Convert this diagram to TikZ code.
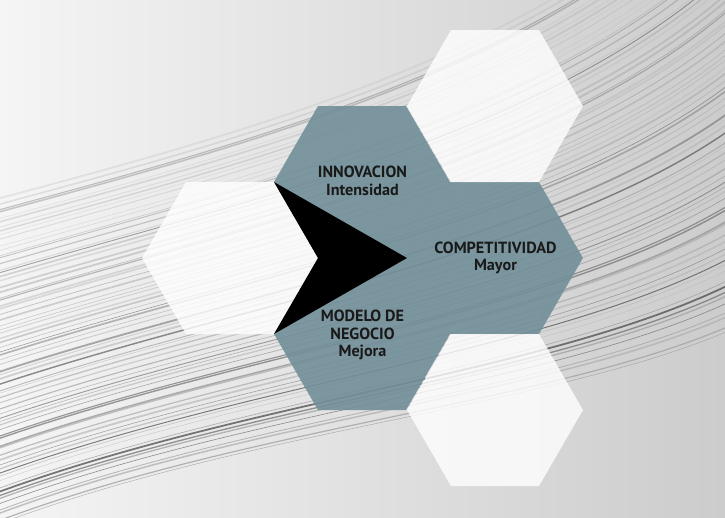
\documentclass[tikz,border=0pt]{standalone}
\usepackage{fontspec}
\setsansfont{PT Sans}
\definecolor{azulgris}{RGB}{114,143,153}
\tikzset{lamina/.style={x={(0.02cm,0cm)},y={(0cm,-0.02cm)}}}
\tikzset{celda/.style={fill=white, opacity=0.8},
	celdaazul/.style={fill=azulgris, opacity=0.9},
	rotulo/.style={font=\sffamily\bfseries\fontsize{9.2}{10}\selectfont, align=center, text=black!90, inner sep=0pt}}
\newcommand{\hexa}{++(88,0) -- ++(-44,76) -- ++(-88,0) -- ++(-44,-76) -- ++(44,-76) -- ++(88,0) -- cycle}

\begin{document}
\begin{tikzpicture}[lamina]
	\useasboundingbox (0,0) rectangle (725,518);
	\clip (0,0) rectangle (725,518);
	% fondo
	\shade[left color=gray!8, middle color=gray!22, right color=gray!40] (0,0) rectangle (725,518);
	\pgfmathsetseed{42}
	\foreach \i in {0,...,70}{
		\pgfmathsetmacro{\pos}{(\i+0.8*rnd)/71}
		\pgfmathsetmacro{\ys}{200+330*\pos}
		\pgfmathsetmacro{\ye}{-150+480*\pos}
		\pgfmathtruncatemacro{\tono}{25+70*rnd*rnd}
		\pgfmathsetmacro{\gros}{0.2+0.9*rnd}
		\draw[black!\tono, line width=\gros pt, opacity=0.3+0.5*\pos] (-10,\ys) .. controls (250,\ys-70-30*\pos) and (560,\ye+200-120*\pos) .. (740,\ye);
	}
	% centros
	\coordinate (arriba) at (495,106);
	\coordinate (izq) at (230,258);
	\coordinate (abajo) at (495,410);
	% azules: union de tres celdas
	\fill[celdaazul] (318,106) -- (406,106) -- (450,182) -- (539,182) -- (583,258) -- (539,334) -- (450,334)
		-- (406,410) -- (318,410) -- (274,334) -- (318,258) -- (274,182) -- cycle;
	\fill[celda] (arriba) \hexa (izq) \hexa (abajo) \hexa; % blancas
	% flecha
	\fill[black] (274,182) -- (407,258) -- (274,334) -- (318,258) -- cycle;
	\node[rotulo] (t1) at (362.5,181) {INNOVACION\\Intensidad};
	\node[rotulo] (t2) at (495.5,258) {COMPETITIVIDAD\\Mayor};
	\node[rotulo] (t3) at (362.5,335) {MODELO DE\\NEGOCIO\\Mejora};
\end{tikzpicture}
\end{document}
